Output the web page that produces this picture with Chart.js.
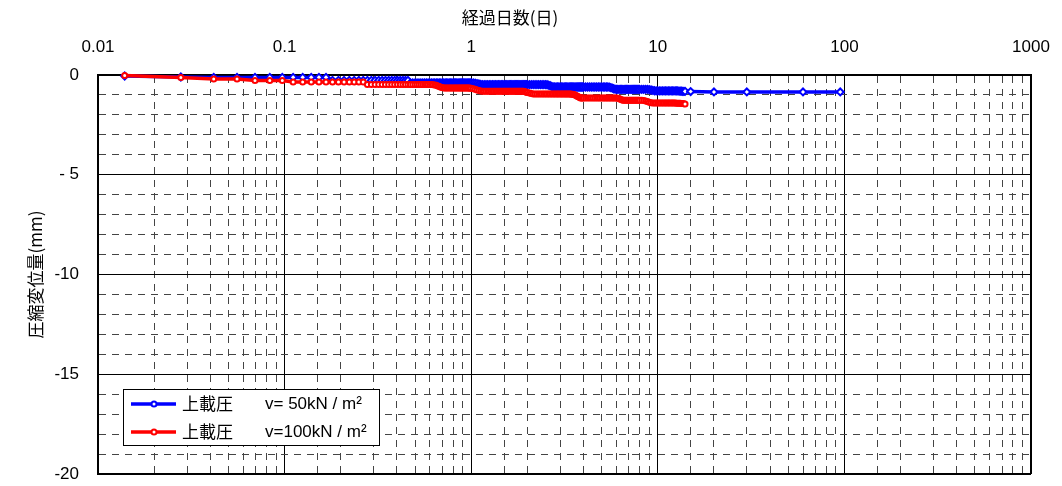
<!DOCTYPE html>
<html>
<head>
<meta charset="utf-8">
<script src="https://cdn.jsdelivr.net/npm/chart.js@4.4.0/dist/chart.umd.min.js"></script>
<style>
  html, body { margin: 0; padding: 0; background: #fff; }
  #wrap { width: 1062px; height: 486px; }
</style>
</head>
<body>
<div id="wrap"><canvas id="chart" width="1062" height="486"></canvas></div>
<script>
// elapsed days (shared by both series)
const days = [
  0.0139, 0.0278, 0.0417, 0.0556, 0.0694, 0.0833, 0.0972, 0.1111, 0.125, 0.1389,
  0.1528, 0.1667, 0.1806, 0.1944, 0.2083, 0.2222, 0.2361, 0.25, 0.2639, 0.2778,
  0.2917, 0.3056, 0.3194, 0.3333, 0.3472, 0.3611, 0.375, 0.3889, 0.4028, 0.4167,
  0.4306, 0.4444, 0.4583, 0.4722, 0.4861, 0.5,
  0.5125, 0.525, 0.5375, 0.55, 0.5625, 0.575, 0.5875, 0.6, 0.6125, 0.625,
  0.6375, 0.65, 0.6625, 0.675, 0.6875, 0.7, 0.7125, 0.725, 0.7375, 0.75,
  0.7625, 0.775, 0.7875, 0.8, 0.8125, 0.825, 0.8375, 0.85, 0.8625, 0.875,
  0.8875, 0.9, 0.9125, 0.925, 0.9375, 0.95, 0.9625, 0.975, 0.9875, 1,
  1.025, 1.05, 1.075, 1.1, 1.125, 1.15, 1.175, 1.2, 1.225, 1.25,
  1.275, 1.3, 1.325, 1.35, 1.375, 1.4, 1.425, 1.45, 1.475, 1.5,
  1.525, 1.55, 1.575, 1.6, 1.625, 1.65, 1.675, 1.7, 1.725, 1.75,
  1.775, 1.8, 1.825, 1.85, 1.875, 1.9, 1.925, 1.95, 1.975, 2,
  2.05, 2.1, 2.15, 2.2, 2.25, 2.3, 2.35, 2.4, 2.45, 2.5,
  2.55, 2.6, 2.65, 2.7, 2.75, 2.8, 2.85, 2.9, 2.95, 3,
  3.05, 3.1, 3.15, 3.2, 3.25, 3.3, 3.35, 3.4, 3.45, 3.5,
  3.55, 3.6, 3.65, 3.7, 3.75, 3.8, 3.85, 3.9, 3.95, 4,
  4.1, 4.2, 4.3, 4.4, 4.5, 4.6, 4.7, 4.8, 4.9, 5,
  5.1, 5.2, 5.3, 5.4, 5.5, 5.6, 5.7, 5.8, 5.9, 6,
  6.1, 6.2, 6.3, 6.4, 6.5, 6.6, 6.7, 6.8, 6.9, 7,
  7.1, 7.2, 7.3, 7.4, 7.5, 7.6, 7.7, 7.8, 7.9, 8,
  8.2, 8.4, 8.6, 8.8, 9, 9.2, 9.4, 9.6, 9.8, 10,
  10.2, 10.4, 10.6, 10.8, 11, 11.2, 11.4, 11.6, 11.8, 12,
  12.2, 12.4, 12.6, 12.8, 13, 13.2, 13.4, 13.6, 13.8, 14
];

// 上載圧 v=50kN/m2 (mm)
const disp50 = [
  -0.05, -0.1, -0.12, -0.12, -0.12, -0.12, -0.12, -0.12, -0.12, -0.12,
  -0.12, -0.12, -0.27, -0.27, -0.27, -0.27, -0.27, -0.27, -0.27, -0.27,
  -0.27, -0.27, -0.27, -0.27, -0.27, -0.27, -0.27, -0.27, -0.27, -0.27,
  -0.27, -0.27, -0.27, -0.4, -0.4, -0.4,
  -0.4, -0.4, -0.4, -0.4, -0.4, -0.4, -0.4, -0.4, -0.4, -0.4,
  -0.4, -0.4, -0.4, -0.4, -0.4, -0.4, -0.4, -0.4, -0.4, -0.4,
  -0.4, -0.4, -0.4, -0.4, -0.4, -0.4, -0.4, -0.4, -0.4, -0.4,
  -0.4, -0.4, -0.4, -0.4, -0.4, -0.4, -0.4, -0.4, -0.4, -0.4,
  -0.4, -0.41, -0.43, -0.45, -0.47, -0.48, -0.48, -0.48, -0.48, -0.48,
  -0.48, -0.48, -0.48, -0.48, -0.48, -0.48, -0.48, -0.48, -0.48, -0.48,
  -0.48, -0.48, -0.48, -0.48, -0.48, -0.48, -0.48, -0.48, -0.48, -0.48,
  -0.48, -0.48, -0.48, -0.48, -0.48, -0.48, -0.48, -0.48, -0.48, -0.48,
  -0.48, -0.48, -0.48, -0.48, -0.48, -0.48, -0.48, -0.48, -0.48, -0.48,
  -0.49, -0.51, -0.54, -0.57, -0.6, -0.6, -0.6, -0.6, -0.6, -0.6,
  -0.6, -0.6, -0.6, -0.6, -0.6, -0.6, -0.6, -0.6, -0.6, -0.6,
  -0.6, -0.6, -0.6, -0.6, -0.6, -0.6, -0.6, -0.6, -0.6, -0.6,
  -0.6, -0.6, -0.6, -0.6, -0.6, -0.6, -0.6, -0.6, -0.6, -0.6,
  -0.6, -0.6, -0.6, -0.6, -0.61, -0.63, -0.66, -0.69, -0.71, -0.72,
  -0.72, -0.72, -0.72, -0.72, -0.72, -0.72, -0.72, -0.72, -0.72, -0.72,
  -0.72, -0.72, -0.72, -0.72, -0.72, -0.72, -0.72, -0.72, -0.72, -0.72,
  -0.72, -0.72, -0.72, -0.72, -0.73, -0.75, -0.77, -0.79, -0.8, -0.8,
  -0.8, -0.8, -0.8, -0.8, -0.8, -0.8, -0.8, -0.8, -0.8, -0.8,
  -0.8, -0.8, -0.8, -0.8, -0.81, -0.81, -0.81, -0.82, -0.82, -0.82
];
// the 50kN series continues after 14 days
const tailDays50 = [15, 20, 30, 60, 95];
const tailDisp50 = [-0.83, -0.85, -0.85, -0.85, -0.85];

// 上載圧 v=100kN/m2 (mm)
const disp100 = [
  -0.02, -0.12, -0.2, -0.2, -0.28, -0.28, -0.28, -0.35, -0.35, -0.35,
  -0.35, -0.35, -0.35, -0.35, -0.35, -0.35, -0.35, -0.35, -0.35, -0.48,
  -0.48, -0.48, -0.48, -0.48, -0.48, -0.48, -0.48, -0.48, -0.48, -0.48,
  -0.48, -0.48, -0.48, -0.48, -0.48, -0.48,
  -0.48, -0.48, -0.48, -0.48, -0.48, -0.48, -0.48, -0.48, -0.48, -0.49,
  -0.5, -0.52, -0.55, -0.58, -0.61, -0.63, -0.65, -0.65, -0.65, -0.65,
  -0.65, -0.65, -0.65, -0.65, -0.65, -0.65, -0.65, -0.65, -0.65, -0.65,
  -0.65, -0.65, -0.65, -0.65, -0.65, -0.65, -0.65, -0.65, -0.66, -0.67,
  -0.69, -0.72, -0.75, -0.78, -0.8, -0.82, -0.82, -0.82, -0.82, -0.82,
  -0.82, -0.82, -0.82, -0.82, -0.82, -0.82, -0.82, -0.82, -0.82, -0.82,
  -0.82, -0.82, -0.82, -0.82, -0.82, -0.82, -0.82, -0.82, -0.82, -0.82,
  -0.82, -0.82, -0.82, -0.82, -0.82, -0.82, -0.83, -0.84, -0.86, -0.88,
  -0.9, -0.93, -0.95, -0.95, -0.95, -0.95, -0.95, -0.95, -0.95, -0.95,
  -0.95, -0.95, -0.95, -0.95, -0.95, -0.95, -0.95, -0.95, -0.95, -0.95,
  -0.95, -0.95, -0.95, -0.95, -0.95, -0.95, -0.95, -0.95, -0.96, -0.97,
  -0.98, -1.0, -1.03, -1.06, -1.09, -1.12, -1.15, -1.15, -1.15, -1.15,
  -1.15, -1.15, -1.15, -1.15, -1.15, -1.15, -1.15, -1.15, -1.15, -1.15,
  -1.15, -1.15, -1.15, -1.15, -1.15, -1.15, -1.15, -1.15, -1.15, -1.15,
  -1.16, -1.18, -1.21, -1.24, -1.27, -1.27, -1.27, -1.27, -1.27, -1.27,
  -1.27, -1.27, -1.27, -1.27, -1.27, -1.27, -1.27, -1.27, -1.27, -1.27,
  -1.27, -1.28, -1.3, -1.33, -1.36, -1.39, -1.4, -1.4, -1.4, -1.4,
  -1.4, -1.4, -1.4, -1.4, -1.4, -1.4, -1.4, -1.4, -1.4, -1.4,
  -1.4, -1.4, -1.41, -1.41, -1.42, -1.42, -1.43, -1.43, -1.44, -1.45
];

const seriesLabels = ['上載圧　v= 50kN / m²', '上載圧　v=100kN / m²'];
const xTitle = '経過日数(日)';
const yTitle = '圧縮変位量(mm)';
const xTickLabels = ['0.01', '0.1', '1', '10', '100', '1000'];
const yTickLabels = ['0', '- 5', '-10', '-15', '-20'];

const latin = '"Liberation Sans", Arial, "Noto Sans CJK JP", sans-serif';
const jp = '"Noto Sans CJK JP", "Liberation Sans", sans-serif';
const minorDash = [7, 6];
const minorColor = '#444';

function isDecade(v) {
  const l = Math.log10(v);
  return Math.abs(l - Math.round(l)) < 1e-6;
}

const days50 = days.concat(tailDays50);
const vals50 = disp50.concat(tailDisp50);
const pts50 = days50.map((d, i) => ({ x: d, y: vals50[i] }));
const pts100 = days.map((d, i) => ({ x: d, y: disp100[i] }));

// x axis title on top (sits a little left of the plot centre in the original)
const topTitle = {
  id: 'topTitle',
  afterDraw(chart) {
    const c = chart.ctx;
    c.save();
    c.font = '17px ' + jp;
    c.fillStyle = '#000';
    c.textAlign = 'center';
    c.textBaseline = 'middle';
    c.fillText(xTitle, 510, 18);
    c.restore();
  }
};

// boxed legend in lower left of the plot
const boxLegend = {
  id: 'boxLegend',
  afterDraw(chart) {
    const c = chart.ctx;
    const area = chart.chartArea;
    const bx = area.left + 25, by = area.bottom - 85, bw = 256, bh = 56;
    c.save();
    c.fillStyle = '#fff';
    c.fillRect(bx, by, bw, bh);
    c.strokeStyle = '#000';
    c.lineWidth = 1;
    c.strokeRect(bx + 0.5, by + 0.5, bw, bh);
    chart.data.datasets.forEach((ds, i) => {
      const cy = by + 15 + i * 28;
      c.strokeStyle = ds.borderColor;
      c.lineWidth = 3.5;
      c.beginPath(); c.moveTo(bx + 8, cy); c.lineTo(bx + 53, cy); c.stroke();
      c.fillStyle = '#fff';
      c.lineWidth = 2;
      c.beginPath();
      c.arc(bx + 31, cy, 2.5, 0, Math.PI * 2);
      c.fill(); c.stroke();
      const parts = ds.label.split('　');
      c.fillStyle = '#000';
      c.textBaseline = 'middle';
      c.font = '17px ' + jp;
      c.fillText(parts[0], bx + 59, cy);
      c.font = '17px ' + latin;
      c.fillText(parts[1], bx + 142, cy);
    });
    c.restore();
  }
};

new Chart(document.getElementById('chart'), {
  type: 'line',
  data: {
    datasets: [
      {
        label: seriesLabels[0],
        data: pts50,
        borderColor: '#0000ff',
        borderWidth: 3.5,
        pointStyle: 'rectRot',
        pointRadius: 3.5,
        pointBorderWidth: 2,
        pointBackgroundColor: '#fff',
        pointBorderColor: '#0000ff',
        tension: 0,
        clip: false,
        order: 2
      },
      {
        label: seriesLabels[1],
        data: pts100,
        borderColor: '#ff0000',
        borderWidth: 3.5,
        pointStyle: 'circle',
        pointRadius: 2.5,
        pointBorderWidth: 2,
        pointBackgroundColor: '#fff',
        pointBorderColor: '#ff0000',
        tension: 0,
        clip: false,
        order: 1
      }
    ]
  },
  options: {
    responsive: false,
    animation: false,
    layout: { padding: { left: 0, top: 0, right: 31, bottom: 12 } },
    plugins: { legend: { display: false }, tooltip: { enabled: false } },
    scales: {
      x: {
        type: 'logarithmic',
        position: 'top',
        min: 0.01,
        max: 1000,
        afterFit(s) {
          s.height = 75;
          s.paddingLeft = 0; s.paddingRight = 0;
        },
        grid: {
          drawTicks: false,
          color: c => isDecade(c.tick.value) ? '#000' : minorColor,
          lineWidth: c => c.tick.value >= 999 ? 2 : 1
        },
        border: {
          color: '#000',
          width: 2,
          dash: c => (c.tick && !isDecade(c.tick.value)) ? minorDash : []
        },
        ticks: {
          autoSkip: false,
          maxRotation: 0,
          padding: 17,
          color: '#000',
          font: { family: latin, size: 17 },
          callback: v => isDecade(v) ? xTickLabels[Math.round(Math.log10(v)) + 2] : ''
        }
      },
      y: {
        min: -20,
        max: 0,
        afterFit(s) {
          s.width = 98;
          s.paddingTop = 0; s.paddingBottom = 0;
        },
        grid: {
          drawTicks: false,
          color: c => c.tick.value % 5 === 0 ? '#000' : minorColor,
          lineWidth: c => c.tick.value === -20 ? 2 : 1
        },
        border: {
          color: '#000',
          width: 2,
          dash: c => (c.tick && c.tick.value % 5 !== 0) ? minorDash : []
        },
        ticks: {
          stepSize: 1,
          autoSkip: false,
          padding: 19,
          color: '#000',
          font: { family: latin, size: 17 },
          callback: v => v % 5 === 0 ? yTickLabels[Math.round(-v / 5)] : ''
        },
        title: {
          display: true,
          text: yTitle,
          color: '#000',
          font: { family: jp, size: 17 },
          padding: { top: 25, bottom: 0 }
        }
      }
    }
  },
  plugins: [topTitle, boxLegend]
});
</script>
</body>
</html>
